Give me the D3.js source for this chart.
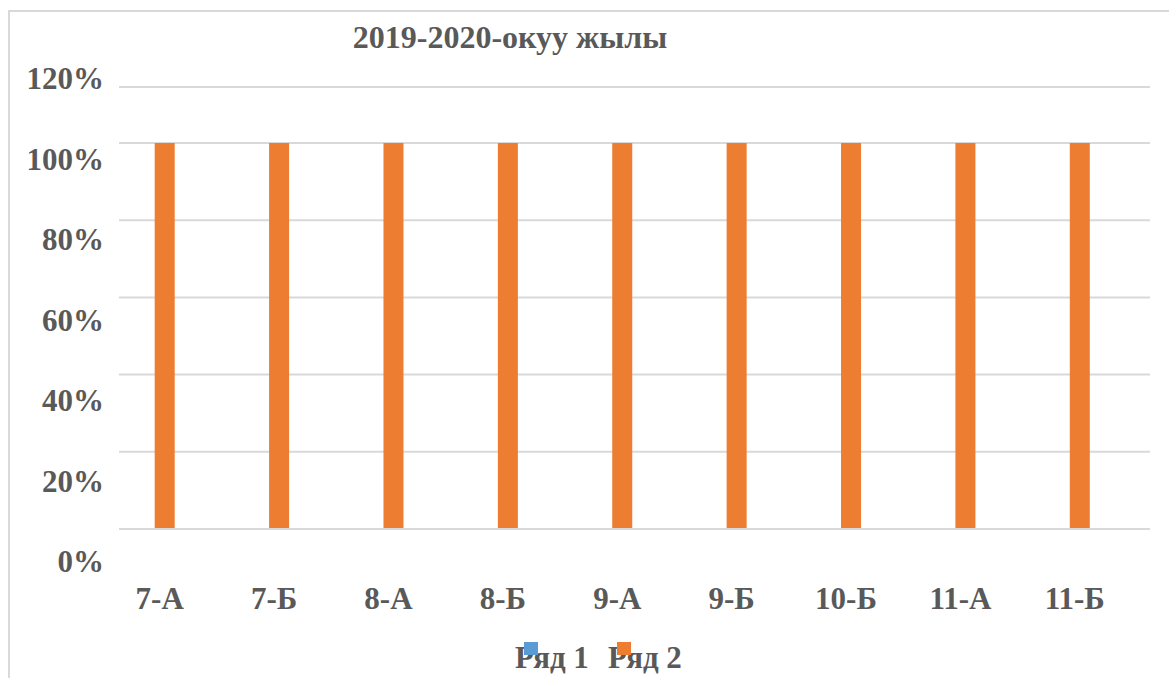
<!DOCTYPE html>
<html>
<head>
<meta charset="utf-8">
<script src="https://cdn.jsdelivr.net/npm/d3@7"></script>
<style>
  html, body { margin: 0; padding: 0; background: #fff; }
  svg { display: block; }
  text { font-family: "Liberation Serif", "Times New Roman", serif; font-weight: bold; fill: #595959; }
</style>
</head>
<body>
<svg id="chart" width="1169" height="678"></svg>
<script>
const title = "2019-2020-окуу жылы";
const categories = ["7-А", "7-Б", "8-А", "8-Б", "9-А", "9-Б", "10-Б", "11-А", "11-Б"];
const seriesNames = ["Ряд 1", "Ряд 2"];
const series1 = [0, 0, 0, 0, 0, 0, 0, 0, 0];
const series2 = [1, 1, 1, 1, 1, 1, 1, 1, 1];
const yTicks = [0, 0.2, 0.4, 0.6, 0.8, 1.0, 1.2];
const yTickLabels = ["0%", "20%", "40%", "60%", "80%", "100%", "120%"];
const colors = ["#5B9BD5", "#ED7D31"];

const svg = d3.select("#chart");

// outer frame
svg.append("rect").attr("x", 9).attr("y", 11).attr("width", 1200).attr("height", 720)
  .attr("fill", "none").attr("stroke", "#d9d9d9").attr("stroke-width", 2);

// scales
const x = d3.scaleBand().domain(categories).range([102.5, 1132]).padding(0);
const xs = d3.scaleBand().domain(seriesNames).range([-25, 15]);
const y = d3.scaleLinear().domain([0, 1, 1.2]).range([529, 143, 87]);
const yLab = d3.scaleLinear().domain([0, 1.2]).range([572, 89]);

// gridlines
svg.append("g").selectAll("line").data(yTicks).join("line")
  .attr("x1", 119).attr("x2", 1150)
  .attr("y1", d => y(d)).attr("y2", d => y(d))
  .attr("stroke", "#d9d9d9").attr("stroke-width", 2);

// y labels
svg.append("g").selectAll("text").data(yTicks).join("text")
  .attr("x", 104).attr("y", d => yLab(d))
  .attr("text-anchor", "end").attr("font-size", 31)
  .text((d, i) => yTickLabels[i]);

// bars
const data = categories.map((c, i) => ({ c, vals: [series1[i], series2[i]] }));
const groups = svg.append("g").selectAll("g").data(data).join("g")
  .attr("transform", d => `translate(${x(d.c) + x.bandwidth() / 2},0)`);
groups.selectAll("rect").data(d => d.vals.map((v, k) => ({ v, k }))).join("rect")
  .attr("x", d => xs(seriesNames[d.k]))
  .attr("width", xs.bandwidth())
  .attr("y", d => y(d.v))
  .attr("height", d => Math.max(0, y(0) - 1 - y(d.v)))
  .attr("fill", d => colors[d.k]);

// x labels
svg.append("g").selectAll("text").data(categories).join("text")
  .attr("x", d => x(d) + x.bandwidth() / 2).attr("y", 609)
  .attr("text-anchor", "middle").attr("font-size", 31)
  .text(d => d);

// title
svg.append("text").attr("x", 510).attr("y", 48).attr("text-anchor", "middle")
  .attr("font-size", 32).text(title);

// legend
const legX = [515, 608];
svg.append("g").selectAll("text").data(seriesNames).join("text")
  .attr("x", (d, i) => legX[i]).attr("y", 668).attr("font-size", 31).text(d => d);
svg.append("g").selectAll("rect").data(seriesNames).join("rect")
  .attr("x", (d, i) => legX[i] + 9).attr("y", 642).attr("width", 14).attr("height", 13)
  .attr("fill", (d, i) => colors[i]);
</script>
</body>
</html>
